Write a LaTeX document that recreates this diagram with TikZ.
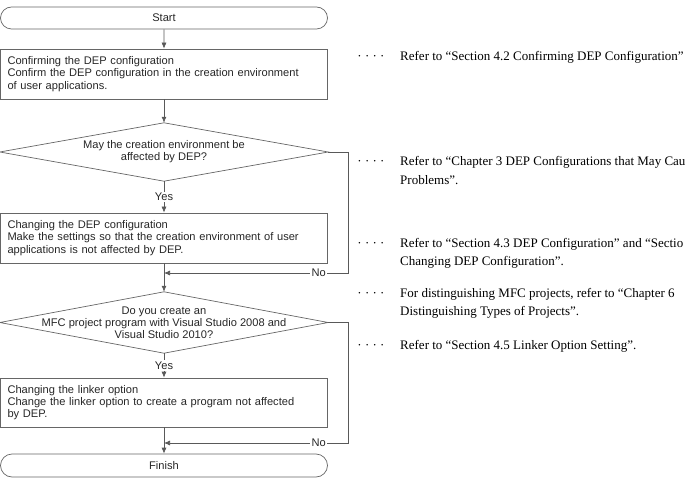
\documentclass[tikz,border=0pt]{standalone}
\usepackage{fontspec}
\setmainfont{Liberation Serif}
\setsansfont{Liberation Sans}
\usetikzlibrary{positioning,shapes.misc,arrows.meta}

\begin{document}
\begin{tikzpicture}[x=1pt,y=-1pt,>={Latex[length=6pt,width=5pt]},
	term/.style={rounded rectangle,draw=black!60,line width=0.7pt,minimum width=327pt,minimum height=22pt,inner sep=0pt,font=\sffamily\fontsize{11.1}{12.5}\selectfont,text=black!85},
	proc/.style={rectangle,draw=black!60,line width=0.7pt,text width=313pt,inner xsep=7pt,minimum height=50pt,align=left,font=\sffamily\fontsize{11.1}{12.2}\selectfont,text=black!85},
	ask/.style={rectangle,minimum width=328pt,minimum height=58pt,inner sep=0pt,align=center,font=\sffamily\fontsize{11.1}{12.2}\selectfont,text=black!85},
	rhomb/.style={draw=black!60,line width=0.7pt},
	link/.style={->,draw=black!65,line width=0.7pt},
	lbl/.style={fill=white,inner sep=1.5pt,font=\sffamily\fontsize{11.1}{12}\selectfont,text=black!85},
	leader/.style={inner sep=0pt,font=\fontsize{13}{15}\selectfont},
	note/.style={inner sep=0pt,align=left,font=\fontsize{13}{18.5}\selectfont}]
	\useasboundingbox (0,0) rectangle (687,486);
	% flow chart
	\node [term] at (164,18) (start) {Start};
	\node [proc] at (164,74) (confirm) {Confirming the DEP configuration\\Confirm the DEP configuration in the creation environment\\of user applications.};
	\node [ask] at (164,152) (mayaffect) {May the creation environment be\\affected by DEP?};
	\node [proc] at (164,238) (changedep) {Changing the DEP configuration\\Make the settings so that the creation environment of user\\applications is not affected by DEP.};
	\node [ask,minimum height=61pt] at (164,322.5) (mfc) {Do you create an\\MFC project program with Visual Studio 2008 and\\Visual Studio 2010?};
	\node [proc,minimum height=49pt] at (164,402.5) (linker) {Changing the linker option\\Change the linker option to create a program not affected\\by DEP.};
	\node [term,minimum height=23pt] at (164,465.5) (finish) {Finish};
	\foreach \q in {mayaffect,mfc}
		\draw [rhomb] (\q.north) -- (\q.east) -- (\q.south) -- (\q.west) -- cycle;
	\coordinate (join1) at (164,273);
	\coordinate (join2) at (164,443);
	\draw [link] (start) -- (confirm);
	\draw [link] (confirm) -- (mayaffect.north);
	\draw [link] (mayaffect.south) -- node [lbl] {Yes} (changedep);
	\draw [link] (changedep) -- (mfc.north);
	\draw [link] (mayaffect.east) -- +(20,0) |- node [lbl,pos=0.58] {No} (join1);
	\draw [link] (mfc.south) -- node [lbl] {Yes} (linker);
	\draw [link] (linker) -- (finish);
	\draw [link] (mfc.east) -- +(20,0) |- node [lbl,pos=0.58] {No} (join2);
	% references (base = last line)
	\node [leader,anchor=base] at (371,61) (dots1) {· · · ·};
	\node [note,anchor=base west] at (400,61) (ref1) {Refer to “Section 4.2 Confirming DEP Configuration”};
	\node [leader,anchor=base] at (371,166) (dots2) {· · · ·};
	\node [note,anchor=base west] at (400,184.5) (ref2) {Refer to “Chapter 3 DEP Configurations that May Cau\\Problems”.};
	\node [leader,anchor=base] at (371,247) (dots3) {· · · ·};
	\node [note,anchor=base west] at (400,265.5) (ref3) {Refer to “Section 4.3 DEP Configuration” and “Sectio\\Changing DEP Configuration”.};
	\node [leader,anchor=base] at (371,297) (dots4) {· · · ·};
	\node [note,anchor=base west] at (400,315.5) (ref4) {For distinguishing MFC projects, refer to “Chapter 6\\Distinguishing Types of Projects”.};
	\node [leader,anchor=base] at (371,349) (dots5) {· · · ·};
	\node [note,anchor=base west] at (400,349) (ref5) {Refer to “Section 4.5 Linker Option Setting”.};
\end{tikzpicture}
\end{document}
